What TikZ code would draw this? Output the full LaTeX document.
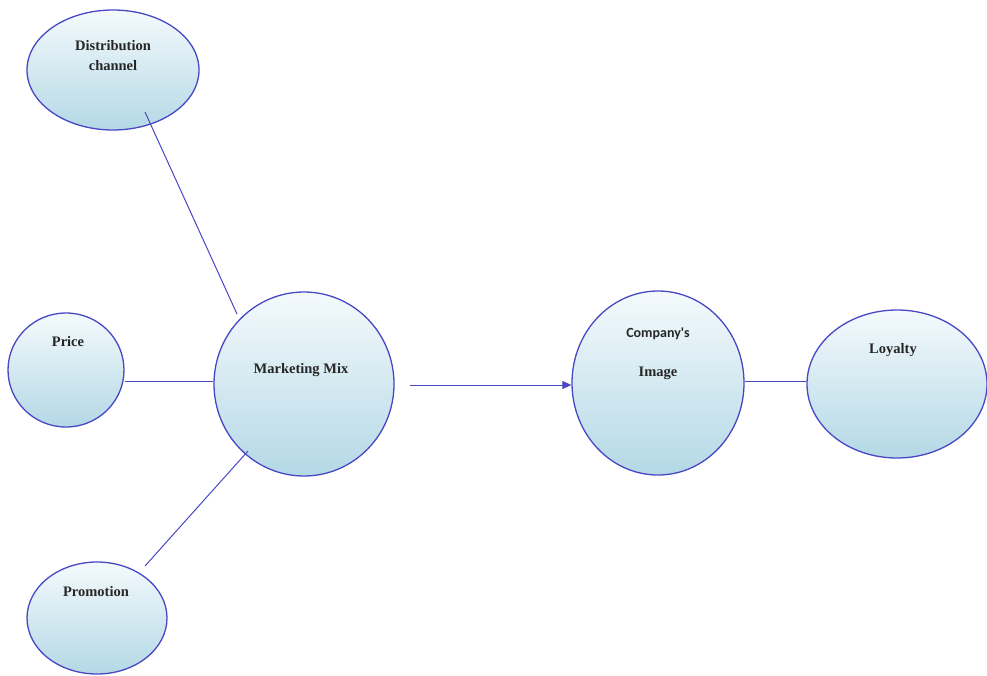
\documentclass[tikz,border=0pt]{standalone}
\usepackage{fontspec}
\setmainfont{Liberation Serif}
\newfontfamily\cmpfont{Carlito}
\usetikzlibrary{shapes.geometric,arrows.meta}
\definecolor{edgeblue}{HTML}{4848C4}
\definecolor{fillbot}{HTML}{B4D8E6}
\definecolor{filltop}{HTML}{F4FAFC}
\tikzset{
  bubble/.style={ellipse, draw=edgeblue, line width=1.3pt, top color=filltop, bottom color=fillbot, minimum width=#1},
  lbl/.style={font=\bfseries\fontsize{14.5}{16}\selectfont, text=black!85, align=center},
  link/.style={draw=edgeblue, line width=1pt},
}
\begin{document}
\begin{tikzpicture}[x=1pt,y=-1pt]
\useasboundingbox (0,0) rectangle (987,675);
\node[bubble=172pt, minimum height=120pt] (dist) at (113,70) {};
\node[bubble=116pt, minimum height=114pt] (price) at (66,370) {};
\node[bubble=180pt, minimum height=184pt] (mm) at (304,384) {};
\node[bubble=140pt, minimum height=112pt] (promo) at (97,618) {};
\node[bubble=172pt, minimum height=184pt] (img) at (658,383) {};
\node[bubble=180pt, minimum height=148pt] (loy) at (897,384) {};
\node[lbl] (tdist) at (113,56) {Distribution\\[4pt]channel};
\node[lbl] (tprice) at (68,342) {Price};
\node[lbl] (tmm) at (301,370) {Marketing Mix};
\node[lbl, font=\cmpfont\bfseries\fontsize{14}{15}\selectfont] (tcmp) at (658,334) {Company's};
\node[lbl] (timg) at (658,373) {Image};
\node[lbl] (tloy) at (893,350) {Loyalty};
\node[lbl] (tpromo) at (96,592) {Promotion};
\coordinate (d1) at (145,112);
\coordinate (d2) at (237,314);
\coordinate (p1) at (145,566);
\coordinate (p2) at (248,451);
\coordinate (a1) at (410,385);
\draw[link] (d1) -- (d2);
\draw[link] (price.east |- 0,381) -- (mm.west |- 0,381);
\draw[link] (p1) -- (p2);
\draw[link, -{Triangle[length=9pt,width=8pt]}] (a1) -- (img.west |- a1);
\draw[link] (img.east |- 0,381) -- (loy.west |- 0,381);
\end{tikzpicture}
\end{document}
